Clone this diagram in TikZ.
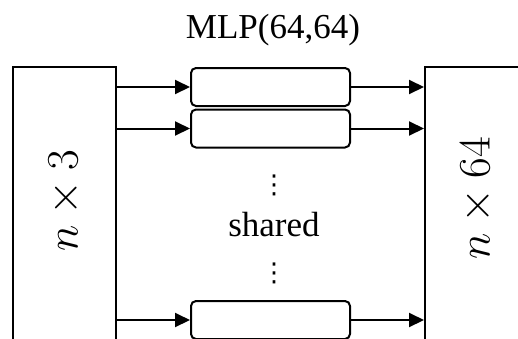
\documentclass[tikz,border=0pt]{standalone}
\usepackage{fix-cm}
\usepackage{fontspec}
\setmainfont{Liberation Serif}
\newfontfamily\dejavu{DejaVu Sans}
\usetikzlibrary{arrows.meta}
\begin{document}
\begin{tikzpicture}[x=1pt,y=-1pt,
  box/.style={draw,line width=2pt,inner sep=0pt,minimum width=103pt,minimum height=293pt},
  mlp/.style={draw,line width=2pt,rounded corners=5pt,inner sep=0pt,minimum width=159pt,minimum height=38pt},
  arr/.style={line width=2pt,-{Triangle[length=15pt,width=14pt]}},
  lbl/.style={font=\fontsize{35}{42}\selectfont,inner sep=0pt},
  vd/.style={font=\dejavu\fontsize{26}{26}\selectfont,inner sep=0pt},
  dim/.style={font=\fontsize{45}{50}\selectfont,inner sep=0pt,rotate=90}]
\useasboundingbox (0,0) rectangle (518,338);
\clip (0,0) rectangle (518,338);
\node[box] (lin) at (64.5,213.5) {};
\node[box,minimum width=115pt] (lout) at (482.5,213.5) {};
\node[mlp] (m1) at (270.5,87) {};
\node[mlp] (m2) at (270.5,128.5) {};
\node[mlp] (m3) at (270.5,320) {};
\node[lbl] (title) at (273,30) {MLP(64,64)};
\node[lbl] (shared) at (274,225) {shared};
\node[vd] (d1) at (274,185) {⋮};
\node[vd] (d2) at (274,273) {⋮};
\node[dim] (tin) at (65,200.5) {$n\times 3$};
\node[dim] (tout) at (477,198.5) {$n\times 64$};
\foreach \m in {m1,m2,m3} {
  \draw[arr] (\m.west -| lin.east) -- (\m.west);
  \draw[arr] (\m.east) -- (\m.east -| lout.west);
}
\end{tikzpicture}
\end{document}
